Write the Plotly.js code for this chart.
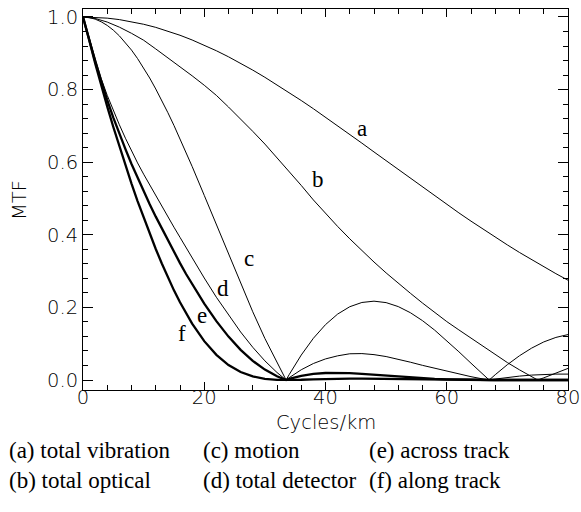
<!DOCTYPE html>
<html>
<head>
<meta charset="utf-8">
<script src="https://cdn.plot.ly/plotly-3.0.1.min.js"></script>
<style>
html,body{margin:0;padding:0;background:#fff;}
#chart{width:581px;height:512px;}
</style>
</head>
<body>
<div id="chart"></div>
<script>
// (a) total vibration
const xA = [0,2,4,6,8,10,12,14,16,18,20,22,24,26,28,30,32,34,36,38,40,42,44,46,48,50,52,54,56,58,60,62,64,66,68,70,72,74,76,78,80];
const mtfA = [1.0000,0.9992,0.9968,0.9928,0.9872,0.9800,0.9714,0.9612,0.9497,0.9367,0.9225,0.9070,0.8903,0.8725,0.8537,0.8339,0.8133,0.7919,0.7699,0.7473,0.7241,0.7005,0.6767,0.6525,0.6282,0.6039,0.5795,0.5552,0.5311,0.5072,0.4837,0.4604,0.4376,0.4152,0.3934,0.3721,0.3513,0.3313,0.3118,0.2930,0.2749];
// (b) total optical
const xB = [0,2,4,6,8,10,12,14,16,18,20,22,24,26,28,30,32,34,36,38,40,42,44,46,48,50,52,54,56,58,60,62,64,66,68,70,72,74,75,76,78,80];
const mtfB = [1.000,0.996,0.986,0.972,0.955,0.936,0.912,0.888,0.863,0.838,0.812,0.784,0.752,0.719,0.685,0.650,0.613,0.575,0.536,0.496,0.459,0.423,0.389,0.356,0.325,0.295,0.266,0.239,0.212,0.186,0.161,0.138,0.115,0.093,0.071,0.048,0.028,0.010,0.000,0.006,0.019,0.032];
// shared frequency grid for (c)-(f)
const xD = [0,0.5,1,2,3,4,5,6,7,8,9,10,11,12,13,14,15,16,17,18,20,22,24,26,28,30,32,33.5,34,36,38,40,42,44,46,48,50,52,54,56,58,60,62,64,66,67,68,70,72,74,76,78,80];
// (c) motion
const mtfC = [1.0000,0.9996,0.9985,0.9941,0.9868,0.9767,0.9638,0.9480,0.9297,0.9088,0.8855,0.8596,0.8319,0.8017,0.7701,0.7364,0.7013,0.6648,0.6270,0.5883,0.5086,0.4273,0.3460,0.2656,0.1880,0.1145,0.0468,0,0.0147,0.0688,0.1150,0.1526,0.1816,0.2019,0.2136,0.2172,0.2132,0.2023,0.1854,0.1635,0.1375,0.1086,0.0778,0.0463,0.0151,0,0.0147,0.0423,0.0669,0.0879,0.1049,0.1173,0.1252];
// (d) total detector
const mtfD = [1.000,0.972,0.940,0.882,0.830,0.784,0.742,0.703,0.666,0.631,0.598,0.567,0.537,0.508,0.479,0.450,0.421,0.393,0.364,0.336,0.281,0.228,0.1785,0.1323,0.0902,0.0528,0.0207,0,0.0063,0.0283,0.0455,0.0581,0.0666,0.0723,0.0728,0.0699,0.0646,0.0575,0.0491,0.0404,0.0322,0.0241,0.0163,0.0092,0.0028,0,0.0026,0.0072,0.0108,0.0136,0.0154,0.0163,0.0163];
// (e) across track
const mtfE = [1.000,0.972,0.939,0.878,0.821,0.771,0.723,0.678,0.636,0.595,0.557,0.520,0.484,0.450,0.417,0.384,0.352,0.322,0.292,0.264,0.2105,0.1621,0.1195,0.0830,0.0527,0.0286,0.0103,0,0.0029,0.0117,0.0169,0.0193,0.0197,0.0190,0.0169,0.0143,0.0115,0.0089,0.0065,0.0045,0.0030,0.0019,0.0010,0.0005,0.0001,0,0,0.0001,0.0001,0.0001,0.0001,0.0001,0.0001];
// (f) along track
const mtfF = [1.000,0.972,0.938,0.873,0.810,0.753,0.697,0.643,0.591,0.541,0.493,0.447,0.403,0.361,0.321,0.283,0.247,0.214,0.183,0.1553,0.1071,0.0693,0.0413,0.0220,0.0099,0.0033,0.0005,0,0,0.0008,0.0019,0.0029,0.0036,0.0038,0.0036,0.0031,0.0025,0.0018,0.0012,0.0007,0.0004,0.0002,0.0001,0,0,0,0,0,0,0,0,0,0];

const curveLetters = ['a','b','c','d','e','f'];
const letterX = [46.0,38.8,27.4,23.1,19.6,16.3];
const letterY = [0.693,0.551,0.335,0.253,0.179,0.129];
const legendTexts = ['(a) total vibration','(b) total optical','(c) motion','(d) total detector','(e) across track','(f) along track'];
const xTitle = 'Cycles/km';
const yTitle = 'MTF';

const thin = {color:'#000', width:1};
const thick = {color:'#000', width:2.3};
const traces = [
  {x:xA, y:mtfA, mode:'lines', line:thin},
  {x:xB, y:mtfB, mode:'lines', line:thin},
  {x:xD, y:mtfC, mode:'lines', line:thin},
  {x:xD, y:mtfD, mode:'lines', line:thin},
  {x:xD, y:mtfE, mode:'lines', line:thick},
  {x:xD, y:mtfF, mode:'lines', line:thick}
];

const serif = 'Liberation Serif, Times New Roman, serif';
const sans = 'DejaVu Sans, sans-serif';
const sansFont = {family:sans, size:19.5, color:'#000', weight:200};
const ann = [];
curveLetters.forEach((t,i)=>ann.push({x:letterX[i], y:letterY[i], xref:'x', yref:'y', text:t, showarrow:false,
  xanchor:'center', yanchor:'middle', font:{family:serif, size:23, color:'#000'}}));
const legX = [-0.1576,-0.1576,0.2439,0.2439,0.5858,0.5858];
const legY = [-0.160,-0.237,-0.160,-0.237,-0.160,-0.237];
legendTexts.forEach((t,i)=>ann.push({x:legX[i], y:legY[i], xref:'paper', yref:'paper', text:t, showarrow:false,
  xanchor:'left', yanchor:'middle', font:{family:serif, size:23, color:'#000'}}));
ann.push({x:0.5, y:-0.086, xref:'paper', yref:'paper', text:xTitle, showarrow:false, xanchor:'center', yanchor:'middle',
  font:sansFont});
ann.push({x:-0.131, y:0.5, xref:'paper', yref:'paper', text:yTitle, showarrow:false, textangle:-90, xanchor:'center', yanchor:'middle',
  font:sansFont});

const axisCommon = {
  showline:true, linecolor:'#000', linewidth:1, mirror:'ticks', ticks:'inside',
  tickcolor:'#000', tickwidth:1, showgrid:false, zeroline:false,
  tickfont:sansFont
};
const layout = {
  width:581, height:512,
  margin:{l:83, r:13, t:9, b:122},
  paper_bgcolor:'#fff', plot_bgcolor:'#fff',
  showlegend:false,
  xaxis:Object.assign({}, axisCommon, {range:[0,80], tick0:0, dtick:20, ticklen:8, ticklabelstandoff:-10,
    minor:{ticks:'inside', dtick:4, ticklen:5, tickcolor:'#000', tickwidth:1}}),
  yaxis:Object.assign({}, axisCommon, {range:[-0.0275,1.022], tick0:0, dtick:0.2, tickformat:'.1f', ticklen:10,
    minor:{ticks:'inside', dtick:0.04, ticklen:5, tickcolor:'#000', tickwidth:1}}),
  annotations:ann
};
Plotly.newPlot('chart', traces, layout, {displayModeBar:false, staticPlot:true});
</script>
</body>
</html>
